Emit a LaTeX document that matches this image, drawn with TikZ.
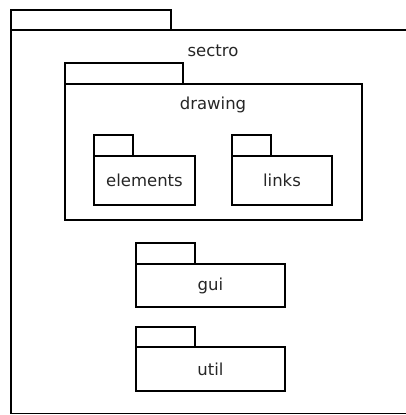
\documentclass[tikz,border=0pt]{standalone}
\usepackage{fontspec}
\setmainfont{DejaVu Sans}
\usepackage{tikz}
\usetikzlibrary{positioning}
\tikzstyle{body} = [draw, line width=1.2pt, inner sep=0pt, outer sep=0pt, anchor=north west]
\tikzstyle{tab} = [draw, line width=1.2pt, inner sep=0pt, outer sep=0pt, anchor=south west]
\tikzstyle{pkgname} = [font=\fontsize{16.5}{19}\selectfont, text=black!85, inner sep=0pt]

\begin{document}
\begin{tikzpicture}[x=1pt, y=-1pt]
\useasboundingbox (0,0) rectangle (406,415);

    % outer package, cut off on the right
    \coordinate (sectroNE) at (406,30);
    \coordinate (sectroSE) at (406,413.5);
    \node[tab, minimum width=160pt, minimum height=20pt] (sectrotab) at (11,30) {};
    \draw[line width=1.2pt] (sectroNE) -- (sectrotab.south west) -- (11,413.5) -- (sectroSE);
    \node[pkgname] (sectro) at (213,51) {sectro};

    % drawing
    \node[body, minimum width=297pt, minimum height=136pt] (drawing) at (65,84) {};
    \node[tab, minimum width=118pt, minimum height=21pt] (drawingtab) at (drawing.north west) {};
    \node[pkgname] (drawinglbl) at (213,105) {drawing};

    \node[body, minimum width=101pt, minimum height=49pt] (elements) at (94,156) {};
    \node[tab, minimum width=39pt, minimum height=21pt] (elementstab) at (elements.north west) {};
    \node[pkgname] at (elements.center) {elements};

    \node[body, minimum width=100pt, minimum height=49pt] (links) at (232,156) {};
    \node[tab, minimum width=39pt, minimum height=21pt] (linkstab) at (links.north west) {};
    \node[pkgname] at (links.center) {links};

    % gui and util
    \node[body, minimum width=149pt, minimum height=43pt] (gui) at (136,264) {};
    \node[tab, minimum width=59pt, minimum height=21pt] (guitab) at (gui.north west) {};
    \node[pkgname] at (gui.center) {gui};

    \node[body, minimum width=149pt, minimum height=44pt] (util) at (136,347) {};
    \node[tab, minimum width=59pt, minimum height=20pt] (utiltab) at (util.north west) {};
    \node[pkgname] at (util.center) {util};
\end{tikzpicture}
\end{document}
